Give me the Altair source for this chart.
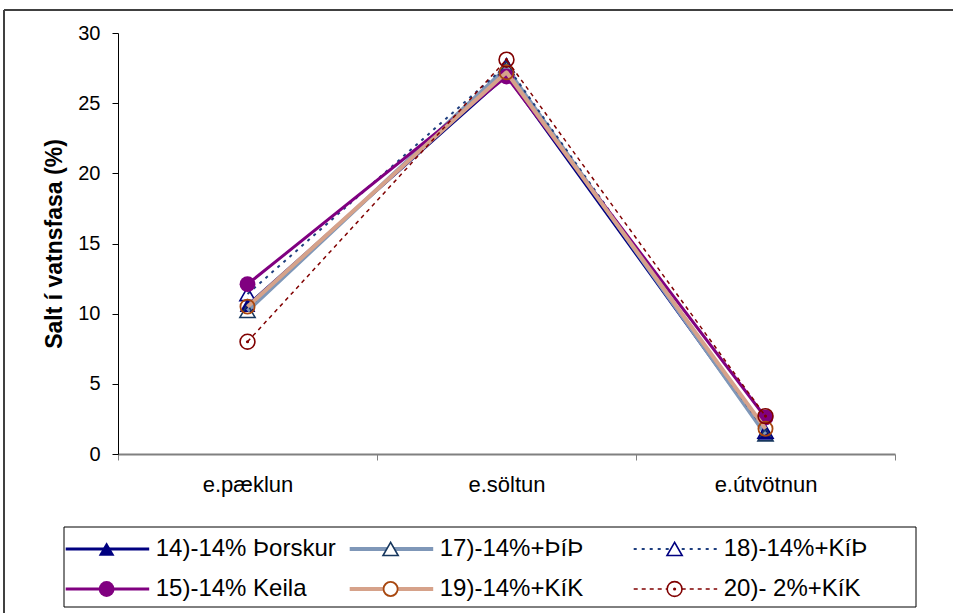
import altair as alt
import pandas as pd

# ---------------- data ----------------
categories = ["e.pæklun", "e.söltun", "e.útvötnun"]
series_names = ["14)-14% Þorskur", "17)-14%+ÞíÞ", "18)-14%+KíÞ",
                "15)-14% Keila", "19)-14%+KíK", "20)- 2%+KíK"]
vals_14 = [10.6, 27.0, 1.5]
vals_17 = [10.2, 27.5, 1.4]
vals_18 = [11.4, 27.7, 1.6]
vals_15 = [12.1, 26.9, 2.6]
vals_19 = [10.5, 27.2, 1.8]
vals_20 = [8.0, 28.1, 2.7]
series_values = [vals_14, vals_17, vals_18, vals_15, vals_19, vals_20]
y_tick_values = [0, 5, 10, 15, 20, 25, 30]
y_title = "Salt í vatnsfasa (%)"
legend_column = [0, 1, 2, 0, 1, 2]
legend_row = [0, 0, 0, 1, 1, 1]

# ---------------- styles / layout ----------------
FONT = "Liberation Sans"
PLOT_W, PLOT_H = 777, 421
PAD = {"left": 118, "top": 33, "right": 58, "bottom": 159}

styles = [
    dict(line="#000080", width=3, dash=None, shape="triangle-up", size=250, filled=True,
         mcolor="#000080", mwidth=1, dot=False),
    dict(line="#7F97B8", width=4, dash=None, shape="triangle-up", size=230, filled=False,
         mcolor="#17375E", mwidth=1.6, dot=False),
    dict(line="#1F3F7F", width=2, dash=[3, 5], shape="triangle-up", size=230, filled=False,
         mcolor="#000080", mwidth=1.6, dot=False),
    dict(line="#800080", width=3, dash=None, shape="circle", size=250, filled=True,
         mcolor="#800080", mwidth=1, dot=False),
    dict(line="#D6A28A", width=4, dash=None, shape="circle", size=200, filled=False,
         mcolor="#A8470F", mwidth=1.8, dot=False),
    dict(line="#800000", width=1.5, dash=[4, 4], shape="circle", size=220, filled=False,
         mcolor="#800000", mwidth=1.6, dot=True),
]

x_axis = alt.Axis(title=None, labelFont=FONT, labelFontSize=22, labelColor="black",
                  labelAngle=0, labelPadding=14, tickSize=6, tickBand="extent",
                  domainColor="#808080", domainWidth=2, tickColor="#808080", tickWidth=1,
                  grid=False)
y_axis = alt.Axis(values=y_tick_values, title=y_title, titleFont=FONT, titleFontSize=23,
                  titleFontWeight="bold", titleColor="black", titlePadding=11,
                  labelFont=FONT, labelFontSize=20, labelColor="black", labelPadding=12,
                  tickSize=6, tickColor="black", domainColor="black", domainWidth=1,
                  grid=False)

X = alt.X("cat:N", sort=categories, bandPosition=0.5,
          scale=alt.Scale(type="band", domain=categories, paddingInner=0, paddingOuter=0),
          axis=x_axis)
Y = alt.Y("val:Q", scale=alt.Scale(domain=[0, 30], nice=False), axis=y_axis)


def mark_kwargs(st):
    kw = dict(shape=st["shape"], size=st["size"], opacity=1, strokeWidth=st["mwidth"])
    if st["filled"]:
        kw.update(filled=True, color=st["mcolor"])
    else:
        kw.update(filled=False, color=st["mcolor"])
    return kw


main_layers = []
for name, vals, st in zip(series_names, series_values, styles):
    df = pd.DataFrame({"cat": categories, "val": vals, "series": name})
    line_kw = dict(color=st["line"], strokeWidth=st["width"], strokeJoin="round")
    if st["dash"]:
        line_kw["strokeDash"] = st["dash"]
    main_layers.append(alt.Chart(df).mark_line(**line_kw).encode(x=X, y=Y))
    main_layers.append(alt.Chart(df).mark_point(**mark_kwargs(st)).encode(x=X, y=Y))
    if st["dot"]:
        main_layers.append(alt.Chart(df).mark_point(shape="circle", size=10, filled=True,
                                                    opacity=1, color=st["mcolor"]).encode(x=X, y=Y))
main = alt.layer(*main_layers)

# ---------------- legend (own scales: 1 unit = one column / one row) ----------------
LEG_X0 = 64 - PAD["left"]     # box left relative to plot origin
LEG_COL_W = 284
LEG_Y0 = 527 - PAD["top"]
LEG_ROW_H = 40
LX = alt.Scale(domain=[(0 - LEG_X0) / LEG_COL_W, (PLOT_W - LEG_X0) / LEG_COL_W],
               nice=False, zero=False)
LY = alt.Scale(domain=[(0 - LEG_Y0) / LEG_ROW_H, (PLOT_H - LEG_Y0) / LEG_ROW_H],
               nice=False, zero=False, reverse=True)

leg = pd.DataFrame({"name": series_names, "col": legend_column, "row": legend_row})
leg["xs"] = leg["col"] + 0.006
leg["xe"] = leg["col"] + 0.300
leg["xm"] = leg["col"] + 0.150
leg["xt"] = leg["col"] + 0.323
leg["yy"] = leg["row"] + 0.55

box_df = pd.DataFrame({"x0": [0], "x1": [3], "y0": [0], "y1": [2]})
legend_layers = [
    alt.Chart(box_df).mark_rect(fill="white", stroke="black", strokeWidth=1).encode(
        x=alt.X("x0:Q", scale=LX, axis=None), x2="x1",
        y=alt.Y("y0:Q", scale=LY, axis=None), y2="y1")
]
for i, st in enumerate(styles):
    row = leg.iloc[[i]]
    rule_kw = dict(color=st["line"], strokeWidth=st["width"])
    if st["dash"]:
        rule_kw["strokeDash"] = st["dash"]
    legend_layers.append(alt.Chart(row).mark_rule(**rule_kw).encode(
        x=alt.X("xs:Q", scale=LX, axis=None), x2="xe",
        y=alt.Y("yy:Q", scale=LY, axis=None)))
    if not st["filled"]:
        # white backing so the line does not show through the open marker
        legend_layers.append(alt.Chart(row).mark_point(shape=st["shape"], size=st["size"],
                                                       filled=True, opacity=1, color="white").encode(
            x=alt.X("xm:Q", scale=LX, axis=None), y=alt.Y("yy:Q", scale=LY, axis=None)))
    legend_layers.append(alt.Chart(row).mark_point(**mark_kwargs(st)).encode(
        x=alt.X("xm:Q", scale=LX, axis=None), y=alt.Y("yy:Q", scale=LY, axis=None)))
    if st["dot"]:
        legend_layers.append(alt.Chart(row).mark_point(shape="circle", size=10, filled=True,
                                                       opacity=1, color=st["mcolor"]).encode(
            x=alt.X("xm:Q", scale=LX, axis=None), y=alt.Y("yy:Q", scale=LY, axis=None)))
legend_layers.append(alt.Chart(leg).mark_text(align="left", baseline="middle", font=FONT,
                                               fontSize=24, color="black").encode(
    x=alt.X("xt:Q", scale=LX, axis=None), y=alt.Y("yy:Q", scale=LY, axis=None), text="name:N"))

# outer chart-area frame (only top and left edges fall inside the picture)
frame_df = pd.DataFrame({"k": [0]})
legend_layers.append(alt.Chart(frame_df).mark_rule(color="#404040", strokeWidth=2).encode(
    x=alt.value(4 - PAD["left"]), x2=alt.value(960 - PAD["left"]), y=alt.value(10 - PAD["top"])))
legend_layers.append(alt.Chart(frame_df).mark_rule(color="#404040", strokeWidth=2).encode(
    x=alt.value(4 - PAD["left"]), y=alt.value(10 - PAD["top"]), y2=alt.value(620 - PAD["top"])))

legend = alt.layer(*legend_layers)

chart = alt.layer(main, legend).resolve_scale(x="independent", y="independent").properties(
    width=PLOT_W, height=PLOT_H,
    autosize=alt.AutoSizeParams(type="none"),
    padding=PAD,
    background="white",
).configure_view(stroke=None)

chart.save("out.html", embed_options={"renderer": "svg", "actions": False})
